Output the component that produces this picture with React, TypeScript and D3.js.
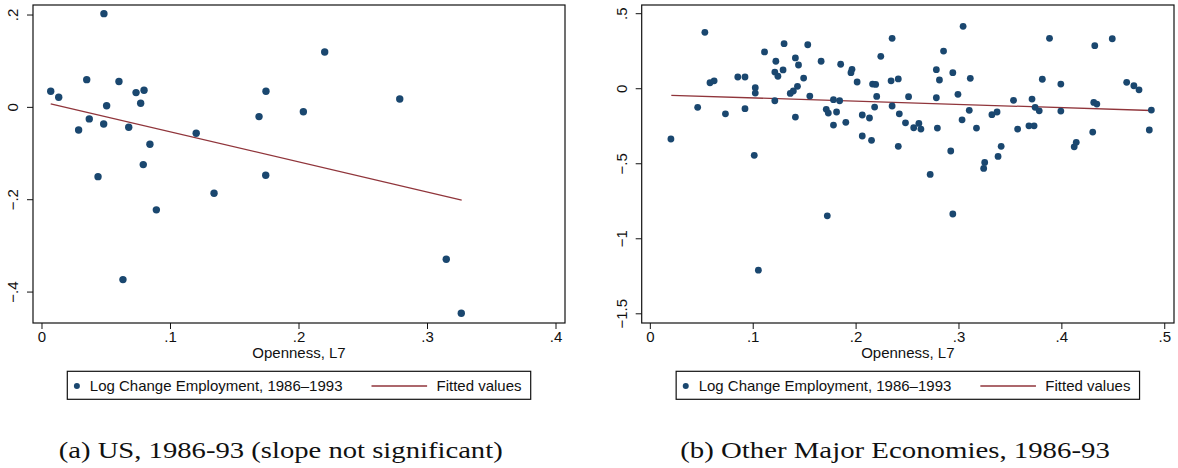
import React from 'react';
import * as d3 from 'd3';

// panel (a): US
const usOpenness = [
  0.0068, 0.013, 0.0285, 0.0348, 0.0368, 0.0482, 0.0503, 0.048, 0.0436, 0.0599,
  0.063, 0.0675, 0.0732, 0.0768, 0.0794, 0.0788, 0.084, 0.089, 0.12, 0.1339,
  0.1689, 0.1743, 0.1741, 0.2034, 0.22, 0.2784, 0.3146, 0.3263,
];
const usChange = [
  0.035, 0.022, -0.049, 0.06, -0.025, 0.203, 0.0035, -0.036, -0.15, 0.056,
  -0.373, -0.043, 0.032, 0.009, 0.037, -0.124, -0.08, -0.222, -0.056, -0.186,
  -0.02, 0.035, -0.147, -0.0095, 0.12, 0.018, -0.329, -0.446,
];
const usFitX = [0.0068, 0.3266];
const usFitY = [0.0078, -0.201];
const usXTicks = [0, 0.1, 0.2, 0.3, 0.4];
const usXTickLabels = ['0', '.1', '.2', '.3', '.4'];
const usYTicks = [0.2, 0, -0.2, -0.4];
const usYTickLabels = ['.2', '0', '\u2212.2', '\u2212.4'];

// panel (b): other major economies
const otherOpenness = [
  0.053, 0.02, 0.046, 0.058, 0.062, 0.073, 0.085, 0.092, 0.092, 0.102,
  0.102, 0.101, 0.111, 0.122, 0.121, 0.124, 0.121, 0.13, 0.129, 0.141,
  0.144, 0.153, 0.149, 0.143, 0.139, 0.136, 0.141, 0.155, 0.166, 0.171,
  0.173, 0.178, 0.178, 0.184, 0.181, 0.185, 0.19, 0.196, 0.195, 0.201,
  0.206, 0.206, 0.213, 0.215, 0.216, 0.219, 0.22, 0.218, 0.224, 0.235,
  0.234, 0.241, 0.235, 0.242, 0.241, 0.248, 0.251, 0.256, 0.261, 0.263,
  0.272, 0.278, 0.278, 0.281, 0.279, 0.285, 0.292, 0.294, 0.294, 0.299,
  0.304, 0.303, 0.31, 0.311, 0.317, 0.325, 0.324, 0.332, 0.337, 0.341,
  0.338, 0.353, 0.357, 0.368, 0.373, 0.371, 0.374, 0.378, 0.381, 0.388,
  0.399, 0.399, 0.412, 0.414, 0.43, 0.432, 0.431, 0.434, 0.449, 0.463,
  0.47, 0.475, 0.487, 0.485, 0.172, 0.105,
];
const otherChange = [
  0.376, -0.335, -0.124, 0.04, 0.053, -0.167, 0.078, 0.078, -0.133, 0.007,
  -0.029, -0.444, 0.245, 0.183, 0.111, 0.083, -0.08, 0.3, 0.125, 0.205,
  0.158, 0.293, 0.071, 0.016, -0.015, -0.031, -0.189, -0.049, 0.183, -0.137,
  -0.162, -0.242, -0.073, -0.08, -0.155, 0.163, -0.224, 0.129, 0.107, 0.045,
  -0.175, -0.315, -0.195, -0.344, 0.031, 0.029, -0.051, -0.122, 0.216, 0.336,
  0.053, 0.065, -0.115, -0.167, -0.384, -0.227, -0.053, -0.26, -0.231, -0.269,
  -0.571, -0.06, 0.127, 0.058, -0.262, 0.251, -0.415, 0.107, -0.835, -0.037,
  0.416, -0.207, -0.144, 0.069, -0.262, -0.491, -0.531, -0.173, -0.155, -0.384,
  -0.451, -0.077, -0.269, -0.247, -0.247, -0.069, -0.124, -0.147, 0.063, 0.336,
  0.031, -0.149, -0.387, -0.357, -0.289, 0.287, -0.091, -0.102, 0.333, 0.043,
  0.02, -0.007, -0.142, -0.275, -0.847, -1.209,
];
const otherFitX = [0.0204, 0.4869];
const otherFitY = [-0.044, -0.145];
const otherXTicks = [0, 0.1, 0.2, 0.3, 0.4, 0.5];
const otherXTickLabels = ['0', '.1', '.2', '.3', '.4', '.5'];
const otherYTicks = [0.5, 0, -0.5, -1, -1.5];
const otherYTickLabels = ['.5', '0', '\u2212.5', '\u22121', '\u22121.5'];

const xTitle = 'Openness, L7';
const legendDots = 'Log Change Employment, 1986\u20131993';
const legendLine = 'Fitted values';

const NAVY = '#1a476f';
const MAROON = '#90353b';
const SANS = '"Liberation Sans", Arial, Helvetica, sans-serif';
const SERIF = '"Liberation Serif", "Times New Roman", serif';

const Panel = ({
  xs, ys, fitX, fitY, xDomain, yDomain, x0, x1,
  xTicks, xLabels, yTicks, yLabels, r, caption, capX, capLen,
}) => {
  const top = 5;
  const bottom = 323;
  const x = d3.scaleLinear().domain(xDomain).range([x0, x1]);
  const y = d3.scaleLinear().domain(yDomain).range([bottom, top]);
  const line = d3.line().x((d) => x(d[0])).y((d) => y(d[1]));
  const mid = (x0 + x1) / 2;
  const lx = mid - 231.7;

  return (
    <g>
      {/* fitted line under the dots */}
      <path d={line(fitX.map((v, i) => [v, fitY[i]]))} fill="none" stroke={MAROON} strokeWidth={1.3} />
      {xs.map((v, i) => (
        <circle key={i} cx={x(v)} cy={y(ys[i])} r={r} fill={NAVY} />
      ))}
      <rect x={x0} y={top} width={x1 - x0} height={bottom - top} fill="none" stroke="#111" strokeWidth={1.2} />

      {xTicks.map((t, i) => (
        <g key={'xt' + i}>
          <line x1={x(t)} x2={x(t)} y1={bottom} y2={bottom + 6} stroke="#111" strokeWidth={1} />
          <text x={x(t)} y={341.5} textAnchor="middle" fontSize={15} fontFamily={SANS} fill="#111">
            {xLabels[i]}
          </text>
        </g>
      ))}
      {yTicks.map((t, i) => (
        <g key={'yt' + i}>
          <line x1={x0 - 6} x2={x0} y1={y(t)} y2={y(t)} stroke="#111" strokeWidth={1} />
          <text
            transform={`translate(${x0 - 15},${y(t)}) rotate(-90)`}
            textAnchor="middle"
            fontSize={15}
            fontFamily={SANS}
            fill="#111"
          >
            {yLabels[i]}
          </text>
        </g>
      ))}

      <text x={mid} y={358} textAnchor="middle" fontSize={15} fontFamily={SANS} fill="#111">
        {xTitle}
      </text>

      {/* legend */}
      <rect x={lx} y={371.3} width={463.4} height={28} fill="#fff" stroke="#111" strokeWidth={1.2} />
      <circle cx={lx + 9.6} cy={386} r={3} fill={NAVY} />
      <text x={lx + 22.5} y={390.5} fontSize={15} fontFamily={SANS} fill="#111">
        {legendDots}
      </text>
      <line x1={lx + 304.2} x2={lx + 359.8} y1={386} y2={386} stroke={MAROON} strokeWidth={1.3} />
      <text x={lx + 369.2} y={390.5} fontSize={15} fontFamily={SANS} fill="#111">
        {legendLine}
      </text>

      <text
        x={capX}
        y={458.3}
        textAnchor="middle"
        fontSize={22.5}
        fontFamily={SERIF}
        fill="#111"
        textLength={capLen}
        lengthAdjust="spacingAndGlyphs"
      >
        {caption}
      </text>
    </g>
  );
};

export default function App() {
  return (
    <svg
      width={1178}
      height={468}
      style={{ position: 'absolute', left: 0, top: 0, background: '#fff' }}
    >
      <rect width={1178} height={468} fill="#fff" />
      <Panel
        xs={usOpenness}
        ys={usChange}
        fitX={usFitX}
        fitY={usFitY}
        xDomain={[-0.007, 0.407]}
        yDomain={[-0.467, 0.2217]}
        x0={33}
        x1={565}
        xTicks={usXTicks}
        xLabels={usXTickLabels}
        yTicks={usYTicks}
        yLabels={usYTickLabels}
        r={3.7}
        caption="(a) US, 1986-93 (slope not significant)"
        capX={280.7}
        capLen={444}
      />
      <Panel
        xs={otherOpenness}
        ys={otherChange}
        fitX={otherFitX}
        fitY={otherFitY}
        xDomain={[-0.0084, 0.509]}
        yDomain={[-1.5613, 0.558]}
        x0={641.7}
        x1={1174}
        xTicks={otherXTicks}
        xLabels={otherXTickLabels}
        yTicks={otherYTicks}
        yLabels={otherYTickLabels}
        r={3.4}
        caption="(b) Other Major Economies, 1986-93"
        capX={895}
        capLen={429.7}
      />
    </svg>
  );
}
